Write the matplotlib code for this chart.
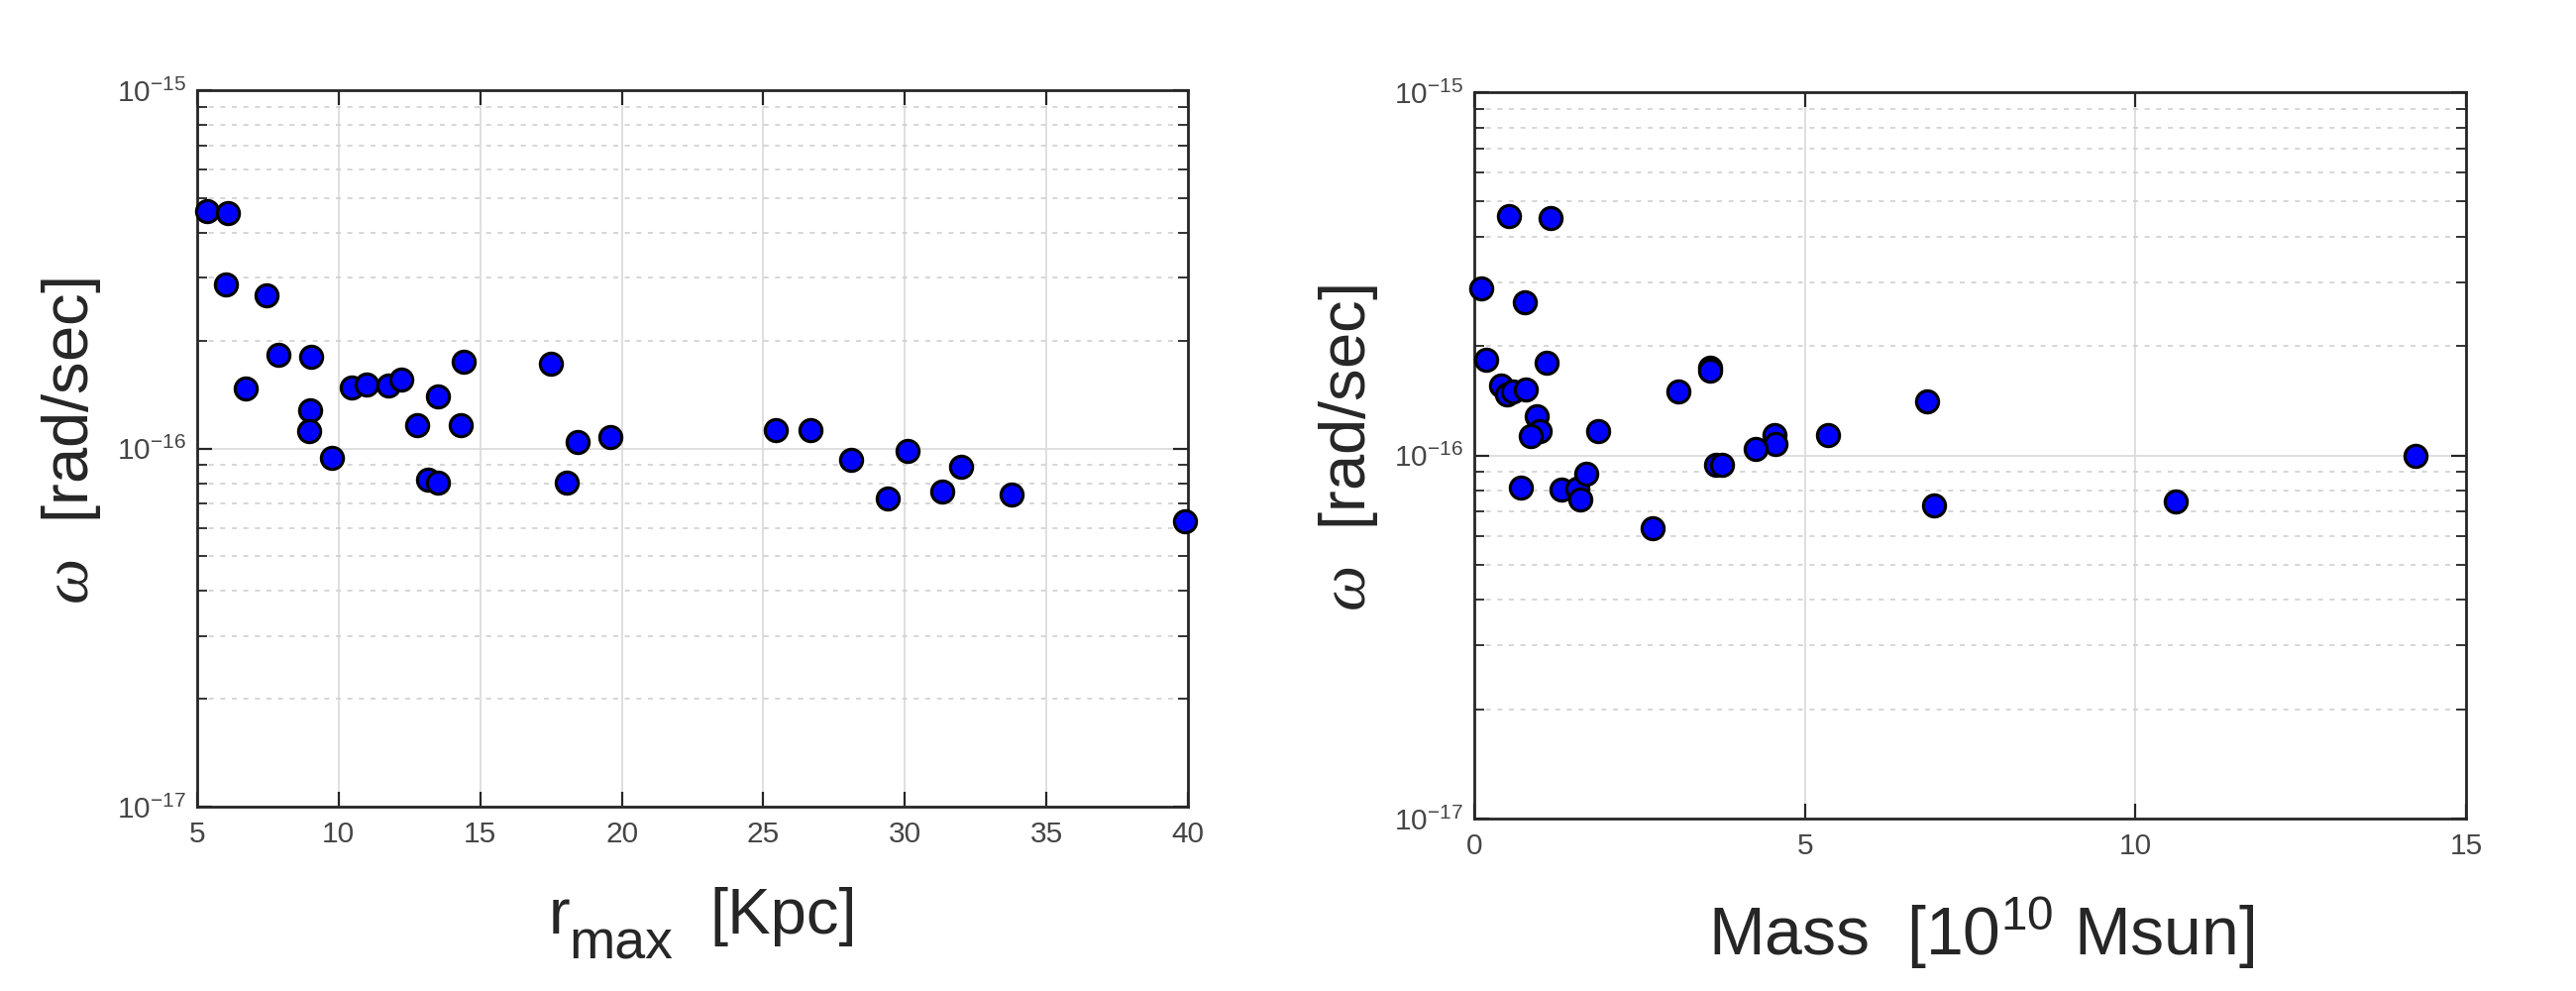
import matplotlib
matplotlib.use("Agg")
import matplotlib.pyplot as plt
from matplotlib.ticker import LogLocator, NullFormatter, MultipleLocator

# omega values in units of 1e-16 rad/sec
r_max = [5.35, 6.09, 6.02, 7.45, 7.88, 9.02, 6.73, 9.00, 8.95, 9.75,
         10.47, 10.97, 11.77, 12.21, 12.77, 13.49, 14.42, 14.31, 13.15, 13.51,
         17.48, 18.06, 18.45, 19.60, 25.45, 26.68, 28.09, 30.11, 29.38, 31.33,
         31.98, 33.77, 39.89]
omega_r = [4.59, 4.53, 2.87, 2.67, 1.82, 1.80, 1.47, 1.28, 1.12, 0.94,
           1.48, 1.51, 1.50, 1.56, 1.16, 1.40, 1.75, 1.16, 0.817, 0.805,
           1.72, 0.805, 1.044, 1.078, 1.125, 1.125, 0.93, 0.985, 0.723, 0.757,
           0.889, 0.745, 0.626]

mass = [0.53, 1.16, 0.105, 0.77, 0.18, 1.09, 3.56, 3.56, 0.41, 0.50,
        0.585, 0.78, 3.08, 6.85, 0.95, 0.99, 0.86, 1.88, 4.54, 4.55,
        4.26, 5.35, 3.65, 3.75, 14.24, 0.71, 1.32, 1.56, 1.69, 1.61,
        6.95, 10.61, 2.70]
omega_m = [4.56, 4.50, 2.88, 2.64, 1.83, 1.80, 1.74, 1.71, 1.56, 1.47,
           1.50, 1.52, 1.50, 1.41, 1.28, 1.17, 1.13, 1.17, 1.14, 1.076,
           1.04, 1.137, 0.943, 0.943, 1.00, 0.817, 0.805, 0.81, 0.893, 0.756,
           0.727, 0.747, 0.632]

plt.rcParams.update({
    "font.family": ["Liberation Sans", "DejaVu Sans"],
    "mathtext.fontset": "custom",
    "mathtext.rm": "Liberation Sans",
    "mathtext.it": "Liberation Serif:italic",
    "mathtext.bf": "Liberation Sans:bold",
    "mathtext.sf": "Liberation Sans",
    "mathtext.default": "regular",
})

fig = plt.figure(figsize=(26, 10), dpi=100)
ax1 = fig.add_axes([0.0765, 0.186, 0.3847, 0.723])
ax2 = fig.add_axes([0.5723, 0.174, 0.3850, 0.733])

label_col = "#262626"
ylabel = r"$\mathit{\omega}$  [rad/sec]"

for ax, x, w, xlim in [(ax1, r_max, omega_r, (5, 40)),
                       (ax2, mass, omega_m, (0, 15))]:
    ax.plot(x, [v * 1e-16 for v in w], "o", ms=16, mfc="#0000ff",
            mec="black", mew=2.3, zorder=3, clip_on=False)
    ax.set_yscale("log")
    ax.set_ylim(1e-17, 1e-15)
    ax.set_xlim(*xlim)
    ax.xaxis.set_major_locator(MultipleLocator(5))
    ax.yaxis.set_major_locator(LogLocator(base=10))
    ax.yaxis.set_minor_locator(LogLocator(base=10, subs=range(2, 10)))
    ax.yaxis.set_minor_formatter(NullFormatter())

    ax.grid(True, which="major", color="#dcdcdc", lw=1.3, ls="-")
    ax.grid(True, which="minor", axis="y", color="#cfcfcf", lw=1.2,
            ls=(0, (3, 4)))
    ax.set_axisbelow(True)

    for sp in ax.spines.values():
        sp.set_color(label_col)
        sp.set_linewidth(2)
    ax.tick_params(which="both", direction="in", top=True, right=True,
                   colors=label_col, labelcolor="#454545", labelsize=21.5)
    ax.tick_params(which="major", length=11, width=1.6)
    ax.tick_params(which="minor", length=7, width=1.3)
    ax.tick_params(axis="x", pad=10)
    ax.tick_params(axis="y", pad=8)

    ax.set_ylabel(ylabel, fontsize=47, color=label_col)
    ax.yaxis.set_label_coords(-0.095, 0.51)

# x labels placed by hand to get the large, dropped "max" subscript
fig.text(554 / 2600, 0.058, "r", fontsize=47, color=label_col,
         ha="left", va="baseline")
fig.text(574 / 2600, 0.032, "max", fontsize=40, color=label_col,
         ha="left", va="baseline")
fig.text(716 / 2600, 0.058, "[Kpc]", fontsize=47, color=label_col,
         ha="left", va="baseline")
fig.text(2000 / 2600, 0.036, r"Mass  [10$^{\mathregular{10}}$ Msun]",
         fontsize=49, color=label_col, ha="center", va="baseline")

fig.savefig("out.png", dpi=100, facecolor="white")
